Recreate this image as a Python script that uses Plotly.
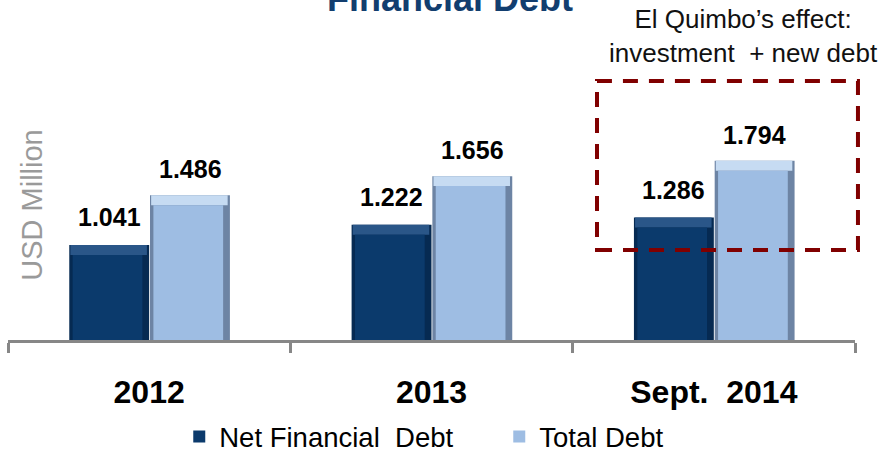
import plotly.graph_objects as go

categories = ["2012", "2013", "Sept.\u00a0\u00a02014"]
net_financial_debt = [1041, 1222, 1286]
total_debt = [1486, 1656, 1794]
series_names = ["Net Financial\u00a0\u00a0Debt", "Total Debt"]
y_axis_title = "USD Million"
chart_title = "Financial Debt"
note_text = "El Quimbo\u2019s effect:<br>investment\u00a0\u00a0+ new debt"

FONT = "Liberation Sans, Arial, sans-serif"
BEVEL = 89          # height of top bevel strip in data units
W = 0.283           # bar width in category units

fig = go.Figure()

def add_bar(values, name, off, edge, top, face):
    common = dict(x=categories, hoverinfo="skip", legendgroup=name)
    # outer (edge) bar
    fig.add_trace(go.Bar(y=values, offset=off, width=W, marker=dict(color=edge, line=dict(width=0)),
                         showlegend=False, **common))
    # top bevel strip
    fig.add_trace(go.Bar(y=[BEVEL] * len(values), base=[v - BEVEL for v in values],
                         offset=off + 0.004, width=W - 0.012,
                         marker=dict(color=top, line=dict(width=0)), showlegend=False, **common))
    # face
    fig.add_trace(go.Bar(y=[v - BEVEL for v in values], offset=off + 0.012, width=W - 0.036,
                         marker=dict(color=face, line=dict(width=0)), name=name, showlegend=True,
                         **common))

add_bar(net_financial_debt, series_names[0], -W, "#062a52", "#2a5688", "#0b3a6c")
add_bar(total_debt, series_names[1], 0.003, "#6d84a4", "#c6dbf2", "#9ebde3")

annotations = []
label_font = dict(family=FONT, size=25, color="#000000", weight="bold")
for i, v in enumerate(net_financial_debt):
    annotations.append(dict(x=i, y=v, text=f"{v:,}".replace(",", "."), showarrow=False,
                            xshift=-40, yshift=12, yanchor="bottom", font=label_font))
for i, v in enumerate(total_debt):
    annotations.append(dict(x=i, y=v, text=f"{v:,}".replace(",", "."), showarrow=False,
                            xshift=41, yshift=10, yanchor="bottom", font=label_font))

annotations.append(dict(xref="paper", yref="paper", x=0.522, y=1.221, text=chart_title,
                        showarrow=False, xanchor="center", yanchor="middle",
                        font=dict(family=FONT, size=36, color="#123e6f", weight="bold")))
annotations.append(dict(xref="paper", yref="paper", x=0.868, y=1.087, text=note_text,
                        showarrow=False, xanchor="center", yanchor="middle", align="center",
                        font=dict(family=FONT, size=26, color="#111111")))
annotations.append(dict(xref="paper", yref="paper", x=0.028, y=0.482, text=y_axis_title,
                        showarrow=False, textangle=-90, xanchor="center", yanchor="middle",
                        font=dict(family=FONT, size=29, color="#9a9a9a")))

shapes = [dict(type="rect", xref="paper", yref="paper", x0=0.6954, x1=1.0035, y0=0.3214, y1=0.925,
               line=dict(color="#800000", width=4, dash="15px,11px"), layer="above")]

fig.update_layout(
    width=885, height=452,
    margin=dict(l=8, r=30, t=60, b=112, autoexpand=False),
    paper_bgcolor="white", plot_bgcolor="white",
    barmode="overlay",
    separators=",.",
    font=dict(family=FONT, color="#000000"),
    xaxis=dict(type="category", range=[-0.5, 2.5], showline=True, linecolor="#878787", linewidth=3,
               ticks="outside", ticklen=10, tickwidth=3, tickcolor="#878787",
               tickson="boundaries", showgrid=False, ticklabelstandoff=22, tickangle=0,
               automargin=False,
               tickfont=dict(family=FONT, size=32, color="#000000", weight="bold")),
    yaxis=dict(range=[193, 2693], visible=False, showgrid=False, zeroline=False),
    legend=dict(orientation="h", x=0.58, xanchor="center", y=-0.345, yanchor="middle",
                font=dict(family=FONT, size=27.5, color="#000000"), entrywidth=275,
                bgcolor="rgba(0,0,0,0)", traceorder="normal"),
    annotations=annotations,
    shapes=shapes,
    showlegend=True,
)

fig.write_html("out.html", post_script="document.body.style.margin='0';",
               config={"displayModeBar": False})
